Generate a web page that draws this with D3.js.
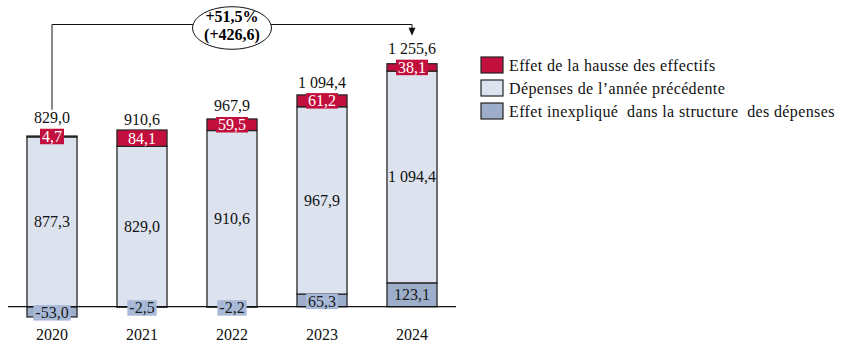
<!DOCTYPE html>
<html>
<head>
<meta charset="utf-8">
<script src="https://cdn.jsdelivr.net/npm/d3@7"></script>
<style>
    body { margin: 0; background: #fff; }
</style>
</head>
<body>
<svg id="chart" width="847" height="354" font-family="'Liberation Serif', serif" font-size="16"></svg>
<script>
// Décomposition de l'évolution des dépenses (M€)
const years = ["2020", "2021", "2022", "2023", "2024"];
const effetInexplique = [-53.0, -2.5, -2.2, 65.3, 123.1];
const depensesPrecedentes = [877.3, 829.0, 910.6, 967.9, 1094.4];
const effetHausse = [4.7, 84.1, 59.5, 61.2, 38.1];

const seriesKeys = ["inexplique", "precedente", "hausse"];
const seriesLabels = [
    "Effet de la hausse des effectifs",
    "Dépenses de l\u2019année précédente",
    "Effet inexpliqué  dans la structure  des dépenses"
];

const colours = {
    hausse: "#c20f3d",
    precedente: "#dde3ee",
    inexplique: "#9daecb"
};
const inexpliqueBox = "#a7b9d7";

const fr = d3.formatLocale({ decimal: ",", thousands: "\u00a0", grouping: [3], currency: ["", " €"], minus: "-" });
const fmt = fr.format(",.1f");

const rows = years.map((y, i) => ({
    year: y,
    inexplique: effetInexplique[i],
    precedente: depensesPrecedentes[i],
    hausse: effetHausse[i]
}));

const svg = d3.select("#chart");

const x = d3.scaleBand()
    .domain(years)
    .range([7, 457])
    .paddingInner(0.444)
    .paddingOuter(0.222);

const y = d3.scaleLinear()
    .domain([0, 1000])
    .range([306.7, 113.2]);

const stack = d3.stack()
    .keys(seriesKeys)
    .offset(d3.stackOffsetDiverging);
const stacked = stack(rows);

// segments
const layers = svg.append("g").attr("class", "bars")
    .selectAll("g")
    .data(stacked)
    .enter()
    .append("g")
    .attr("fill", d => colours[d.key]);

layers.selectAll("rect")
    .data(d => d)
    .enter()
    .append("rect")
    .attr("x", d => x(d.data.year))
    .attr("width", x.bandwidth())
    .attr("y", d => y(Math.max(d[0], d[1])))
    .attr("height", d => Math.abs(y(d[0]) - y(d[1])))
    .attr("stroke", "#262626")
    .attr("stroke-width", 1.3);

// zero line
svg.append("line")
    .attr("x1", 8)
    .attr("x2", 456)
    .attr("y1", y(0))
    .attr("y2", y(0))
    .attr("stroke", "#111")
    .attr("stroke-width", 1.3);

// segment labels
const boxH = 15.5;
const labelG = svg.append("g").attr("class", "labels");
stacked.forEach(layer => {
    layer.forEach(d => {
        const cx = x(d.data.year) + x.bandwidth() / 2,
            cy = (y(d[0]) + y(d[1])) / 2,
            segH = Math.abs(y(d[0]) - y(d[1])),
            txt = fmt(d.data[layer.key]);
        const t = labelG.append("text")
            .attr("x", cx)
            .attr("y", cy + 5.5)
            .attr("text-anchor", "middle")
            .text(txt);
        const w = t.node().getComputedTextLength() + 4;
        if (layer.key === "hausse") {
            t.attr("fill", "#fff");
            labelG.insert("rect", () => t.node())
                .attr("x", cx - w / 2)
                .attr("y", cy - boxH / 2)
                .attr("width", w)
                .attr("height", boxH)
                .attr("fill", colours.hausse);
        } else if (layer.key === "inexplique") {
            t.attr("fill", "#1a1a1a");
            if (segH < boxH) {
                labelG.insert("rect", () => t.node())
                    .attr("x", cx - w / 2)
                    .attr("y", cy - boxH / 2 + 1)
                    .attr("width", w)
                    .attr("height", boxH)
                    .attr("fill", inexpliqueBox);
                t.attr("y", cy + 6.5);
            }
        } else {
            t.attr("fill", "#111");
        }
    });
});

// totals above bars
const topOf = i => {
    const top = d3.min(stacked, l => y(Math.max(l[i][0], l[i][1])));
    const hausseMid = (y(stacked[2][i][0]) + y(stacked[2][i][1])) / 2;
    return Math.min(top, hausseMid - boxH / 2);
};
const totals = rows.map(r => r.inexplique + r.precedente + r.hausse);
svg.append("g").attr("class", "totals")
    .selectAll("text")
    .data(rows)
    .enter()
    .append("text")
    .attr("x", d => x(d.year) + x.bandwidth() / 2)
    .attr("y", (d, i) => topOf(i) - 5.5)
    .attr("text-anchor", "middle")
    .attr("fill", "#111")
    .text((d, i) => fmt(totals[i]));

// year labels
svg.append("g").attr("class", "years")
    .selectAll("text")
    .data(years)
    .enter()
    .append("text")
    .attr("x", d => x(d) + x.bandwidth() / 2)
    .attr("y", 340)
    .attr("text-anchor", "middle")
    .attr("fill", "#111")
    .text(d => d);

// overall evolution bracket
const first = 0, last = years.length - 1;
const x0 = x(years[first]) + x.bandwidth() / 2,
    x1 = x(years[last]) + x.bandwidth() / 2,
    bracketY = 24.5,
    startY = topOf(first) - 19,
    endY = topOf(last) - 24;
const growth = totals[last] - totals[first],
    growthPct = growth / totals[first] * 100;

svg.append("path")
    .attr("d", `M${x0},${startY}V${bracketY}H${x1}V${endY - 7}`)
    .attr("fill", "none")
    .attr("stroke", "#111")
    .attr("stroke-width", 1);
svg.append("path")
    .attr("d", `M${x1 - 3.5},${endY - 8}L${x1 + 3.5},${endY - 8}L${x1},${endY}Z`)
    .attr("fill", "#111");

const ex = (x0 + x1) / 2;
svg.append("ellipse")
    .attr("cx", ex)
    .attr("cy", 28)
    .attr("rx", 39.5)
    .attr("ry", 21.3)
    .attr("fill", "#fff")
    .attr("stroke", "#111")
    .attr("stroke-width", 1);
svg.append("text")
    .attr("x", ex)
    .attr("y", 21.5)
    .attr("text-anchor", "middle")
    .attr("font-weight", "bold")
    .text("+" + fr.format(".1f")(growthPct) + "%");
svg.append("text")
    .attr("x", ex)
    .attr("y", 39.5)
    .attr("text-anchor", "middle")
    .attr("font-weight", "bold")
    .text("(+" + fmt(growth) + ")");

// legend
const legendKeys = ["hausse", "precedente", "inexplique"];
const legend = svg.append("g")
    .attr("class", "legend")
    .attr("transform", "translate(481,57)");
const item = legend.selectAll("g")
    .data(legendKeys)
    .enter()
    .append("g")
    .attr("transform", (d, i) => `translate(0,${i * 23})`);
item.append("rect")
    .attr("width", 22)
    .attr("height", 16)
    .attr("fill", d => colours[d])
    .attr("stroke", "#222")
    .attr("stroke-width", 1.2);
item.append("text")
    .attr("x", 28)
    .attr("y", 13.5)
    .attr("fill", "#111")
    .attr("letter-spacing", 0.38)
    .style("white-space", "pre")
    .text((d, i) => seriesLabels[i]);
</script>
</body>
</html>
